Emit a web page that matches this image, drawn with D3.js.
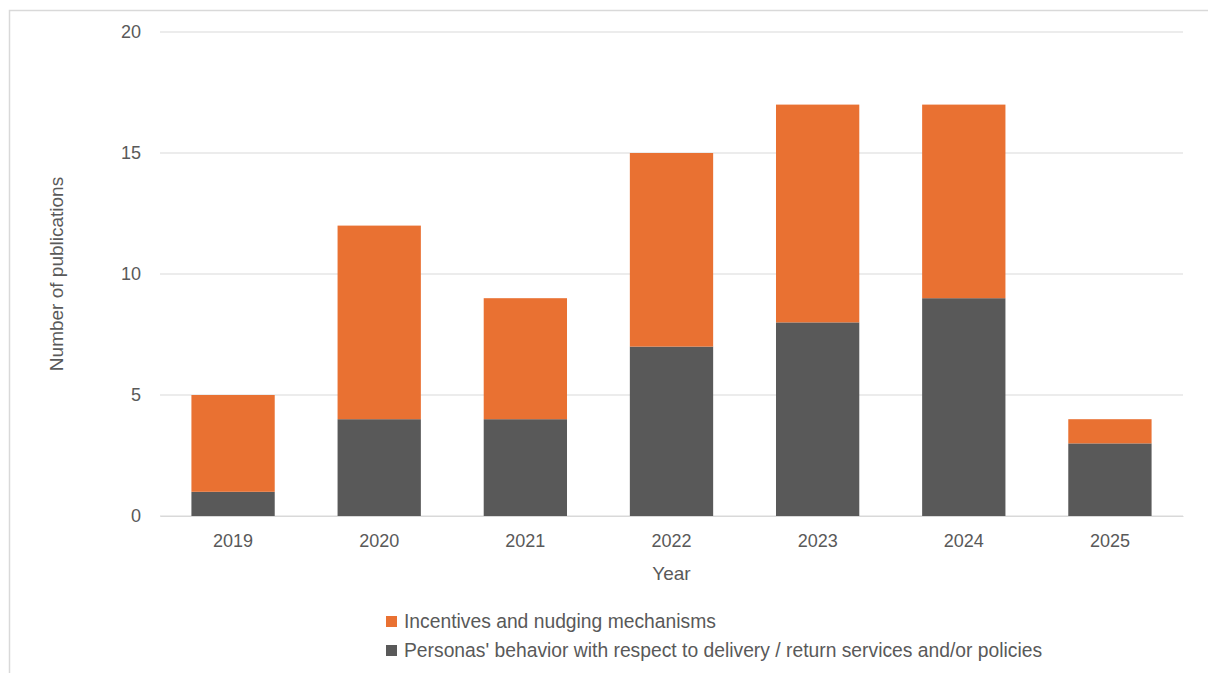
<!DOCTYPE html>
<html>
<head>
<meta charset="utf-8">
<script src="https://cdn.jsdelivr.net/npm/d3@7"></script>
<style>
  body { margin: 0; background: #fff; }
  svg text { font-family: "Liberation Sans", Arial, sans-serif; fill: #595959; }
</style>
</head>
<body>
<div class="chart"></div>
<script>
// data
var years = ["2019", "2020", "2021", "2022", "2023", "2024", "2025"];
var personas = [1, 4, 4, 7, 8, 9, 3];
var incentives = [4, 8, 5, 8, 9, 8, 1];
var seriesNames = ["Incentives and nudging mechanisms",
                   "Personas' behavior with respect to delivery / return services and/or policies"];
var yTicks = [0, 5, 10, 15, 20];

var width = 1208, height = 673;
var margin = { top: 32, bottom: 157, left: 160, right: 25 };
var colors = { personas: "#595959", incentives: "#E97132" };

var svg = d3.select("div.chart").append("svg").attr("width", width).attr("height", height);

// frame
svg.append("rect")
  .attr("x", 9.5).attr("y", 10.5)
  .attr("width", width + 20).attr("height", height + 20)
  .attr("fill", "none").attr("stroke", "#d9d9d9").attr("stroke-width", 1.5);

var table = years.map(function(y, i) {
  return { year: y, personas: personas[i], incentives: incentives[i] };
});
var stacked = d3.stack().keys(["personas", "incentives"])(table);

var xScale = d3.scaleBand()
  .domain(years)
  .range([margin.left, width - margin.right])
  .paddingInner(0.43).paddingOuter(0.215);

var yScale = d3.scaleLinear()
  .domain([0, 20])
  .range([height - margin.bottom, margin.top]);

// gridlines
svg.append("g").selectAll("line")
  .data(yTicks)
  .enter().append("line")
  .attr("x1", margin.left).attr("x2", width - margin.right)
  .attr("y1", function(d) { return yScale(d); })
  .attr("y2", function(d) { return yScale(d); })
  .attr("stroke", "#d9d9d9").attr("stroke-width", 1);

// y labels
var axisy = d3.axisLeft(yScale).tickValues(yTicks).tickSize(0).tickPadding(19);
var gy = svg.append("g")
  .attr("transform", "translate(" + margin.left + ",0)")
  .call(axisy);
gy.select(".domain").remove();
gy.selectAll("text").attr("font-size", "18px").attr("font-family", null).style("fill", "#595959");

// bars
svg.append("g").selectAll("g")
  .data(stacked)
  .enter().append("g")
  .attr("fill", function(d) { return colors[d.key]; })
  .selectAll("rect")
  .data(function(d) { return d; })
  .enter().append("rect")
  .attr("x", function(d) { return xScale(d.data.year); })
  .attr("width", xScale.bandwidth())
  .attr("y", function(d) { return yScale(d[1]); })
  .attr("height", function(d) { return yScale(d[0]) - yScale(d[1]); });

// x axis
var axisx = d3.axisBottom(xScale).tickSize(0).tickPadding(18);
var gx = svg.append("g")
  .attr("transform", "translate(0," + (height - margin.bottom) + ")")
  .call(axisx);
gx.select(".domain").attr("stroke", "#d9d9d9");
gx.selectAll("text").attr("font-size", "18px").attr("font-family", null).style("fill", "#595959");

// axis titles
svg.append("text")
  .attr("x", (width - margin.left - margin.right) / 2 + margin.left)
  .attr("y", 580)
  .attr("text-anchor", "middle")
  .attr("font-size", "19px")
  .text("Year");

svg.append("text")
  .attr("transform", "rotate(-90)")
  .attr("x", -(height - margin.top - margin.bottom) / 2 - margin.top)
  .attr("y", 63)
  .attr("text-anchor", "middle")
  .attr("font-size", "19px")
  .text("Number of publications");

// legend
var legend = svg.append("g").selectAll("g")
  .data([{ name: seriesNames[0], color: colors.incentives },
         { name: seriesNames[1], color: colors.personas }])
  .enter().append("g")
  .attr("transform", function(d, i) { return "translate(386," + (616 + i * 29) + ")"; });

legend.append("rect")
  .attr("width", 11).attr("height", 11)
  .attr("fill", function(d) { return d.color; });

legend.append("text")
  .attr("x", 18).attr("y", 12)
  .attr("font-size", "19.3px")
  .text(function(d) { return d.name; });
</script>
</body>
</html>
